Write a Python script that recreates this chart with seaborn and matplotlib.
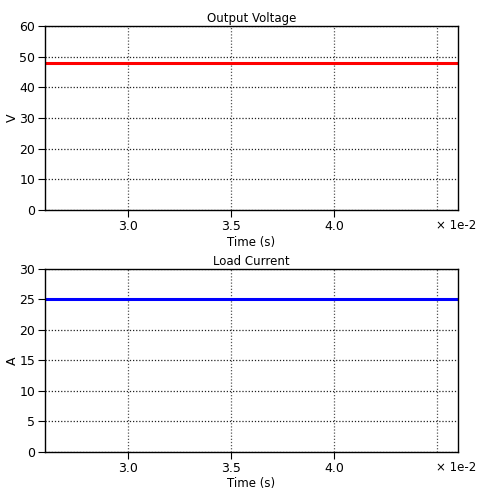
import numpy as np
import pandas as pd
import matplotlib
matplotlib.use("Agg")
import matplotlib.pyplot as plt
import seaborn as sns
from matplotlib.ticker import FuncFormatter, FixedLocator

sns.set_style("white")
plt.rcParams['font.family'] = ['DejaVu Sans']
plt.rcParams['text.color'] = 'black'
plt.rcParams['axes.labelcolor'] = 'black'
plt.rcParams['xtick.color'] = 'black'
plt.rcParams['ytick.color'] = 'black'

# Data (time in seconds)
time_s = [0.026, 0.028, 0.030, 0.032, 0.034, 0.036, 0.038, 0.040, 0.042, 0.044, 0.046]
voltage_v = [48.0, 48.0, 48.0, 48.0, 48.0, 48.0, 48.0, 48.0, 48.0, 48.0, 48.0]
current_a = [25.0, 25.0, 25.0, 25.0, 25.0, 25.0, 25.0, 25.0, 25.0, 25.0, 25.0]

xticks_major = [0.030, 0.035, 0.040]
xticks_minor = [0.045]
vticks = [0, 10, 20, 30, 40, 50, 60]
aticks = [0, 5, 10, 15, 20, 25, 30]

df = pd.DataFrame({"t": time_s, "V": voltage_v, "A": current_a})

fig = plt.figure(figsize=(4.8, 4.93), dpi=100)
ax1 = fig.add_axes([0.09375, 0.574, 0.8604, 0.3733])
ax2 = fig.add_axes([0.09375, 0.0832, 0.8604, 0.3712])

specs = [
    (ax1, "V", "#ff0000", "Output Voltage", "V", vticks, (0, 60)),
    (ax2, "A", "#0000ff", "Load Current", "A", aticks, (0, 30)),
]

dot = (0, (1, 1.5))
for ax, col, color, title, ylab, yt, ylim in specs:
    sns.lineplot(data=df, x="t", y=col, ax=ax, color=color, linewidth=2.2)
    ax.set_xlim(0.026, 0.046)
    ax.set_ylim(*ylim)
    ax.xaxis.set_major_locator(FixedLocator(xticks_major))
    ax.xaxis.set_minor_locator(FixedLocator(xticks_minor))
    ax.xaxis.set_major_formatter(FuncFormatter(lambda v, p: f"{v*100:.1f}"))
    ax.set_yticks(yt)
    ax.grid(True, which="major", axis="y", linestyle=dot, color="#222222", linewidth=0.9)
    ax.grid(True, which="both", axis="x", linestyle=dot, color="#555555", linewidth=0.9)
    ax.tick_params(axis="both", which="major", direction="out", length=5, width=0.8,
                   labelsize=9, color="black", pad=2, bottom=True, left=True)
    ax.tick_params(axis="x", which="minor", length=0)
    for s in ax.spines.values():
        s.set_color("black")
        s.set_linewidth(1.0)
    ax.set_title(title, fontsize=8.5, pad=3)
    ax.set_xlabel("Time (s)", fontsize=8.5, labelpad=2)
    ax.set_ylabel(ylab, fontsize=9, labelpad=0)
    ax.text(0.995, -0.05, "× 1e-2", transform=ax.transAxes, fontsize=8.5,
            ha="center", va="top")

fig.savefig("out.png", dpi=100)
